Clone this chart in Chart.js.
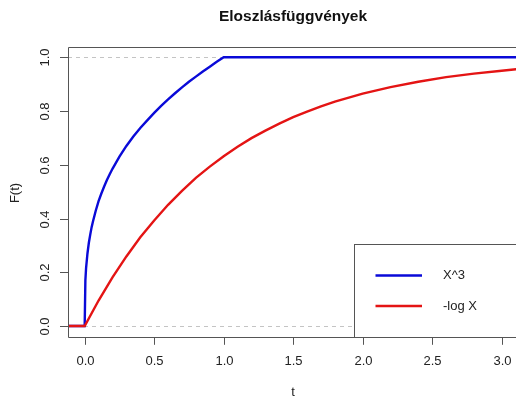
<!DOCTYPE html>
<html>
<head>
<meta charset="utf-8">
<script src="https://cdn.jsdelivr.net/npm/chart.js@4.4.1/dist/chart.umd.min.js"></script>
<style>
  html, body { margin: 0; padding: 0; background: #fff; }
  #wrap { width: 516px; height: 397px; position: relative; }
</style>
</head>
<body>
<div id="wrap"><canvas id="c" width="516" height="397"></canvas></div>
<script>
// ---- data ----
const chartTitle = "Eloszlásfüggvények";
const xAxisLabel = "t";
const yAxisLabel = "F(t)";
const seriesNames = ["X^3", "-log X"];

const blueT = [-0.12, 0, 0, 0.005, 0.01, 0.02, 0.03, 0.04, 0.05, 0.06, 0.08, 0.1, 0.12, 0.14, 0.16, 0.18, 0.2, 0.25, 0.3, 0.35, 0.4, 0.45, 0.5, 0.55, 0.6, 0.65, 0.7, 0.75, 0.8, 0.85, 0.9, 0.95, 1.0, 3.12];
const blueF = [0, 0, 0.0, 0.17, 0.215, 0.27, 0.31, 0.34, 0.368, 0.39, 0.43, 0.465, 0.493, 0.519, 0.543, 0.565, 0.585, 0.63, 0.67, 0.705, 0.737, 0.765, 0.793, 0.819, 0.843, 0.866, 0.888, 0.909, 0.928, 0.947, 0.965, 0.983, 1.0, 1.0];

const redT = [-0.12, 0, 0.1, 0.2, 0.3, 0.4, 0.5, 0.6, 0.7, 0.8, 0.9, 1.0, 1.1, 1.2, 1.3, 1.4, 1.5, 1.6, 1.7, 1.8, 1.9, 2.0, 2.2, 2.4, 2.6, 2.8, 3.0, 3.12];
const redF = [0, 0, 0.095, 0.181, 0.259, 0.33, 0.393, 0.451, 0.503, 0.551, 0.593, 0.632, 0.667, 0.699, 0.727, 0.753, 0.777, 0.798, 0.817, 0.835, 0.85, 0.865, 0.889, 0.909, 0.926, 0.939, 0.95, 0.956];

const xTicks = [0, 0.5, 1.0, 1.5, 2.0, 2.5, 3.0];
const xTickLabels = ["0.0", "0.5", "1.0", "1.5", "2.0", "2.5", "3.0"];
const yTicks = [0, 0.2, 0.4, 0.6, 0.8, 1.0];
const yTickLabels = ["0.0", "0.2", "0.4", "0.6", "0.8", "1.0"];
const refLines = [0, 1];

const BLUE = '#0a0ad8';
const RED = '#e41414';
const FONT = "'Liberation Sans', Arial, sans-serif";

function pts(xs, ys) { return xs.map((x, i) => ({ x: x, y: ys[i] })); }

const decor = {
  id: 'decor',
  beforeDatasetsDraw(chart) {
    const ctx = chart.ctx, a = chart.chartArea, ys = chart.scales.y;
    ctx.save();
    ctx.strokeStyle = '#c4c4c4';
    ctx.lineWidth = 1;
    ctx.setLineDash([4, 4]);
    refLines.forEach(v => {
      const y = Math.round(ys.getPixelForValue(v)) + 0.5;
      ctx.beginPath(); ctx.moveTo(a.left, y); ctx.lineTo(a.right, y); ctx.stroke();
    });
    ctx.restore();
  },
  afterDatasetsDraw(chart) {
    const ctx = chart.ctx, a = chart.chartArea, xs = chart.scales.x, ys = chart.scales.y;
    ctx.save();
    // box
    ctx.strokeStyle = '#555';
    ctx.lineWidth = 1;
    ctx.beginPath();
    ctx.moveTo(a.right + 5, Math.round(a.top) + 0.5);
    ctx.lineTo(Math.round(a.left) + 0.5, Math.round(a.top) + 0.5);
    ctx.lineTo(Math.round(a.left) + 0.5, Math.round(a.bottom) + 0.5);
    ctx.lineTo(a.right + 5, Math.round(a.bottom) + 0.5);
    ctx.stroke();
    ctx.fillStyle = '#222';
    ctx.font = '13px ' + FONT;
    // x ticks
    ctx.textAlign = 'center';
    ctx.textBaseline = 'middle';
    xTicks.forEach((v, i) => {
      const x = Math.round(xs.getPixelForValue(v)) + 0.5;
      ctx.beginPath(); ctx.moveTo(x, Math.round(a.bottom) + 0.5); ctx.lineTo(x, a.bottom + 8); ctx.stroke();
      ctx.fillText(xTickLabels[i], x, 361.5);
    });
    // y ticks
    yTicks.forEach((v, i) => {
      const y = Math.round(ys.getPixelForValue(v)) + 0.5;
      ctx.beginPath(); ctx.moveTo(a.left - 8, y); ctx.lineTo(Math.round(a.left) + 0.5, y); ctx.stroke();
      ctx.save();
      ctx.translate(45.5, y);
      ctx.rotate(-Math.PI / 2);
      ctx.fillText(yTickLabels[i], 0, 0);
      ctx.restore();
    });
    // axis labels
    ctx.fillText(xAxisLabel, 293, 392);
    ctx.save();
    ctx.translate(15.5, 193);
    ctx.rotate(-Math.PI / 2);
    ctx.fillText(yAxisLabel, 0, 0);
    ctx.restore();
    // title
    ctx.font = 'bold 15.5px ' + FONT;
    ctx.fillStyle = '#111';
    ctx.fillText(chartTitle, 293, 16.5);
    // legend
    const lx = 354.5, ly = 244.5, lb = Math.round(a.bottom) + 0.5;
    ctx.fillStyle = '#fff';
    ctx.fillRect(lx, ly, 200, lb - ly);
    ctx.strokeStyle = '#555';
    ctx.strokeRect(lx, ly, 200, lb - ly);
    const rows = [{ y: 275.5, c: BLUE, t: seriesNames[0] }, { y: 306, c: RED, t: seriesNames[1] }];
    ctx.font = '13px ' + FONT;
    ctx.textAlign = 'left';
    rows.forEach(r => {
      ctx.strokeStyle = r.c; ctx.lineWidth = 2.4;
      ctx.beginPath(); ctx.moveTo(375.5, r.y); ctx.lineTo(422, r.y); ctx.stroke();
      ctx.fillStyle = '#222';
      ctx.fillText(r.t, 443, r.y);
    });
    ctx.restore();
  }
};

new Chart(document.getElementById('c'), {
  type: 'line',
  data: {
    datasets: [
      { label: seriesNames[0], data: pts(blueT, blueF), borderColor: BLUE, borderWidth: 2.4, pointRadius: 0, tension: 0, fill: false, order: 2 },
      { label: seriesNames[1], data: pts(redT, redF), borderColor: RED, borderWidth: 2.4, pointRadius: 0, tension: 0, fill: false, order: 1 }
    ]
  },
  options: {
    responsive: false,
    animation: false,
    events: [],
    layout: { padding: { top: 46.5, left: 0, right: 0, bottom: 0 } },
    plugins: { legend: { display: false }, title: { display: false }, tooltip: { enabled: false } },
    scales: {
      x: {
        type: 'linear', min: -0.12, max: 3.103,
        grid: { display: false }, border: { display: false },
        ticks: { display: false },
        afterFit(s) { s.height = 60.2; }
      },
      y: {
        type: 'linear', min: -0.04, max: 1.04,
        grid: { display: false }, border: { display: false },
        ticks: { display: false },
        afterFit(s) { s.height = s.height; s.width = 68; }
      }
    }
  },
  plugins: [decor]
});
</script>
</body>
</html>
